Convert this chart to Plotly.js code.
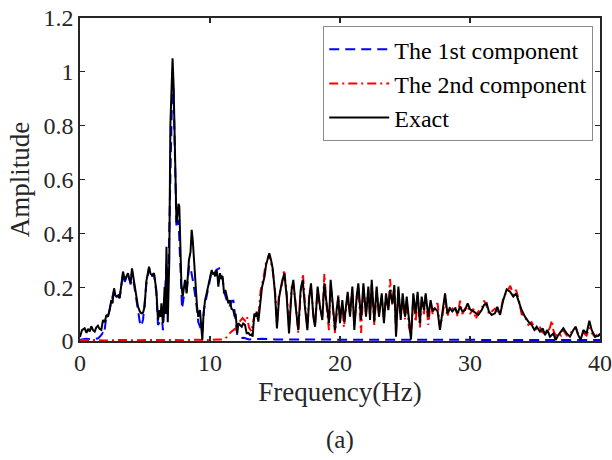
<!DOCTYPE html>
<html>
<head>
<meta charset="utf-8">
<script src="https://cdn.plot.ly/plotly-3.0.1.min.js"></script>
<style>html,body{margin:0;padding:0;background:#fff;}#chart{width:612px;height:460px;}</style>
</head>
<body>
<div id="chart"></div>
<script>
// Exact spectrum (black solid)
var freqExact = [0,0.15,0.36,0.5,0.62,0.75,0.87,1.0,1.13,1.25,1.38,1.5,1.64,1.77,1.9,2.03,2.15,2.28,2.41,2.5,2.62,2.72,2.8,2.95,3.05,3.15,3.31,3.44,3.55,3.69,3.8,3.9,4.0,4.1,4.2,4.33,4.46,4.6,4.72,4.85,4.97,5.1,5.2,5.31,5.42,5.54,5.69,5.87,6.0,6.07,6.13,6.2,6.26,6.38,6.45,6.51,6.58,6.65,6.75,6.87,6.95,7.05,7.12,7.2,7.3,7.42,7.5,7.58,7.64,7.72,7.8,7.9,8.0,8.08,8.2,8.3,8.38,8.5,8.59,8.68,8.77,8.85,8.92,9.0,9.1,9.23,9.3,9.41,9.5,9.62,9.74,9.85,9.95,10.05,10.13,10.22,10.31,10.4,10.51,10.58,10.64,10.77,10.87,10.97,11.08,11.18,11.28,11.41,11.54,11.65,11.79,11.9,11.97,12.1,12.18,12.3,12.44,12.55,12.69,12.82,12.95,13.08,13.2,13.28,13.41,13.5,13.59,13.72,13.82,13.92,14.0,14.1,14.2,14.31,14.45,14.56,14.7,14.82,14.92,15.0,15.15,15.31,15.51,15.72,15.9,16.08,16.28,16.41,16.59,16.79,16.97,17.13,17.3,17.49,17.64,17.77,17.95,18.08,18.28,18.46,18.64,18.79,18.97,19.15,19.28,19.49,19.62,19.75,19.87,20.0,20.18,20.33,20.59,20.77,20.95,21.1,21.28,21.41,21.62,21.8,22.0,22.18,22.31,22.44,22.64,22.82,23.0,23.21,23.38,23.54,23.72,23.85,24.03,24.18,24.31,24.49,24.67,24.82,25.0,25.13,25.31,25.46,25.64,25.82,25.97,26.15,26.28,26.46,26.59,26.79,26.97,27.13,27.3,27.51,27.69,27.87,28.08,28.26,28.46,28.64,28.85,29.05,29.23,29.41,29.62,29.82,30.0,30.26,30.45,30.64,30.9,31.08,31.28,31.46,31.67,31.92,32.1,32.31,32.56,32.82,33.08,33.33,33.54,33.72,33.97,34.23,34.49,34.74,34.95,35.13,35.38,35.59,35.77,35.95,36.15,36.41,36.59,36.79,37.0,37.18,37.44,37.69,37.95,38.13,38.33,38.51,38.72,38.97,39.18,39.36,39.62,39.87,40.0];
var ampExact = [0.015,0.04,0.047,0.03,0.045,0.035,0.055,0.04,0.035,0.05,0.057,0.045,0.041,0.078,0.07,0.097,0.09,0.115,0.153,0.14,0.196,0.17,0.165,0.17,0.159,0.2,0.258,0.227,0.24,0.252,0.23,0.215,0.27,0.235,0.202,0.16,0.128,0.11,0.103,0.105,0.128,0.221,0.25,0.276,0.25,0.245,0.252,0.19,0.078,0.1,0.115,0.09,0.14,0.066,0.15,0.2,0.1,0.35,0.07,0.3,0.8,1.0,1.05,0.95,0.75,0.44,0.47,0.51,0.5,0.3,0.21,0.165,0.2,0.227,0.177,0.25,0.301,0.33,0.413,0.37,0.301,0.24,0.177,0.13,0.09,0.115,0.07,0.004,0.1,0.152,0.177,0.2,0.214,0.24,0.264,0.25,0.252,0.24,0.264,0.24,0.202,0.252,0.23,0.24,0.177,0.19,0.165,0.14,0.152,0.12,0.115,0.09,0.102,0.029,0.066,0.06,0.053,0.065,0.06,0.029,0.03,0.022,0.025,0.016,0.102,0.09,0.109,0.072,0.12,0.189,0.2,0.22,0.24,0.282,0.31,0.326,0.3,0.27,0.22,0.177,0.047,0.159,0.214,0.252,0.165,0.028,0.189,0.227,0.128,0.04,0.189,0.227,0.128,0.04,0.165,0.214,0.09,0.053,0.202,0.128,0.078,0.214,0.14,0.066,0.227,0.09,0.04,0.12,0.165,0.066,0.152,0.07,0.183,0.09,0.202,0.041,0.165,0.214,0.078,0.214,0.09,0.202,0.078,0.227,0.072,0.202,0.09,0.177,0.066,0.177,0.115,0.19,0.14,0.208,0.016,0.202,0.078,0.177,0.09,0.165,0.066,0.006,0.177,0.103,0.183,0.066,0.165,0.115,0.177,0.09,0.152,0.11,0.121,0.11,0.041,0.103,0.177,0.103,0.121,0.11,0.121,0.103,0.128,0.11,0.115,0.14,0.118,0.11,0.103,0.097,0.115,0.134,0.14,0.109,0.097,0.103,0.127,0.097,0.152,0.192,0.183,0.165,0.177,0.152,0.115,0.09,0.072,0.06,0.041,0.053,0.035,0.047,0.022,0.041,0.016,0.028,0.004,0.022,0.035,0.047,0.028,0.016,0.041,0.053,0.022,0.004,0.041,0.028,0.075,0.041,0.016,0.019,0.028];

// 1st component (blue dashed)
var freq1 = [0,0.5,1.0,1.4,1.6,1.75,1.85,2.0,2.15,2.28,2.41,2.62,2.8,3.05,3.31,3.44,3.69,3.9,4.0,4.2,4.46,4.6,4.72,4.85,4.97,5.1,5.31,5.54,5.69,5.87,6.0,6.13,6.26,6.38,6.51,6.65,6.8,6.95,7.05,7.12,7.2,7.3,7.42,7.58,7.72,7.85,8.0,8.2,8.4,8.55,8.7,8.92,9.1,9.25,9.41,9.55,9.74,9.95,10.13,10.31,10.51,10.7,10.97,11.1,11.3,11.5,11.7,11.8,11.95,12.1,12.3,12.6,13.0,14.0,15.0,17.0,20.0,23.0,26.0,29.0,32.0,35.0,38.0,40.0];
var amp1 = [0.005,0.008,0.006,0.01,0.02,0.03,0.025,0.08,0.09,0.12,0.15,0.19,0.17,0.16,0.25,0.22,0.25,0.21,0.26,0.2,0.12,0.07,0.055,0.08,0.14,0.21,0.27,0.24,0.25,0.18,0.06,0.07,0.11,0.04,0.15,0.29,0.25,0.6,0.95,1.0,0.92,0.72,0.42,0.45,0.28,0.12,0.17,0.18,0.28,0.26,0.22,0.15,0.07,0.05,0.03,0.12,0.17,0.21,0.26,0.25,0.265,0.27,0.23,0.18,0.15,0.13,0.15,0.15,0.08,0.02,0.01,0.012,0.006,0.008,0.006,0.005,0.005,0.005,0.004,0.005,0.004,0.004,0.004,0.004];

// 2nd component (red dash-dot)
var freq2 = [0,1,2,3,4,5,6,7,8,9,10,10.5,11.0,11.3,11.6,11.9,12.1,12.25,12.5,12.7,12.85,13.0,13.2,13.35,13.5,13.7,13.9,14.1,14.3,14.55,14.8,15.0,15.15,15.3,15.5,15.7,15.9,16.08,16.28,16.41,16.59,16.79,16.97,17.15,17.3,17.49,17.64,17.77,17.95,18.08,18.28,18.46,18.64,18.8,18.97,19.15,19.28,19.49,19.62,19.87,20.0,20.18,20.3,20.59,20.77,20.95,21.1,21.28,21.41,21.62,21.8,22.0,22.18,22.31,22.44,22.64,22.82,23.0,23.21,23.38,23.54,23.72,23.85,24.03,24.18,24.31,24.49,24.67,24.82,25.0,25.13,25.31,25.46,25.64,25.82,25.97,26.15,26.28,26.46,26.59,26.79,26.97,27.13,27.3,27.51,27.69,27.87,28.08,28.26,28.46,28.64,28.85,29.05,29.23,29.41,29.62,29.82,30.0,30.26,30.45,30.64,30.9,31.08,31.28,31.46,31.67,31.92,32.1,32.31,32.56,32.82,33.1,33.33,33.54,33.72,33.97,34.23,34.49,34.74,34.95,35.13,35.38,35.59,35.77,35.95,36.15,36.3,36.41,36.59,36.79,37.0,37.18,37.44,37.69,37.95,38.13,38.33,38.51,38.72,38.97,39.18,39.36,39.62,39.87,40.0];
var amp2 = [0.003,0.004,0.002,0.004,0.003,0.004,0.003,0.004,0.003,0.005,0.003,0.006,0.005,0.015,0.033,0.045,0.04,0.07,0.085,0.075,0.09,0.05,0.035,0.08,0.1,0.08,0.19,0.23,0.29,0.32,0.27,0.19,0.06,0.17,0.2,0.265,0.18,0.05,0.2,0.21,0.14,0.03,0.17,0.25,0.14,0.05,0.18,0.2,0.1,0.06,0.19,0.12,0.09,0.25,0.13,0.04,0.21,0.1,0.03,0.17,0.08,0.14,0.05,0.17,0.1,0.19,0.06,0.15,0.2,0.03,0.2,0.1,0.19,0.09,0.21,0.06,0.19,0.1,0.16,0.08,0.17,0.12,0.23,0.13,0.2,0.03,0.19,0.09,0.16,0.08,0.15,0.05,0.02,0.16,0.07,0.17,0.05,0.15,0.1,0.17,0.06,0.14,0.1,0.13,0.14,0.05,0.09,0.16,0.09,0.13,0.12,0.13,0.09,0.15,0.1,0.12,0.13,0.1,0.12,0.08,0.11,0.12,0.15,0.13,0.1,0.11,0.12,0.11,0.1,0.16,0.18,0.205,0.17,0.19,0.16,0.1,0.09,0.06,0.07,0.05,0.04,0.05,0.03,0.045,0.03,0.05,0.077,0.04,0.02,0.03,0.02,0.04,0.02,0.025,0.045,0.05,0.02,0.01,0.03,0.02,0.05,0.03,0.015,0.03,0.02];

var seriesNames = ['The 1st component', 'The 2nd component', 'Exact'];
var xTickVals = [0, 10, 20, 30, 40];
var yTickVals = [0, 0.2, 0.4, 0.6, 0.8, 1, 1.2];
var xLabel = 'Frequency(Hz)';
var yLabel = 'Amplitude';
var caption = '(a)';

var fontFam = '"Liberation Serif", "Times New Roman", serif';
var ink = '#262626';

var traces = [
  {x: freq1, y: amp1, name: seriesNames[0], type: 'scatter', mode: 'lines',
   line: {color: '#0000ff', width: 2, dash: '10px,6px'}},
  {x: freq2, y: amp2, name: seriesNames[1], type: 'scatter', mode: 'lines',
   line: {color: '#ff0000', width: 2, dash: '9px,4px,2px,4px'}},
  {x: freqExact, y: ampExact, name: seriesNames[2], type: 'scatter', mode: 'lines',
   line: {color: '#000000', width: 2}}
];

var axisCommon = {
  showline: true, linecolor: ink, linewidth: 1.6, mirror: 'ticks',
  ticks: 'inside', ticklen: 5, tickwidth: 1.3, tickcolor: ink,
  showgrid: false, zeroline: false,
  tickfont: {family: fontFam, size: 24, color: ink}
};

var layout = {
  width: 612, height: 460,
  margin: {l: 80, r: 12, t: 18, b: 119},
  paper_bgcolor: '#ffffff', plot_bgcolor: '#ffffff',
  font: {family: fontFam, color: ink},
  showlegend: true,
  xaxis: Object.assign({}, axisCommon, {
    range: [0, 40], tickvals: xTickVals, ticktext: xTickVals.map(String),
    title: {text: xLabel, font: {family: fontFam, size: 27, color: ink}, standoff: 6}
  }),
  yaxis: Object.assign({}, axisCommon, {
    range: [0, 1.2], tickvals: yTickVals, ticktext: yTickVals.map(String),
    title: {text: yLabel, font: {family: fontFam, size: 27, color: ink}, standoff: 6}
  }),
  legend: {
    x: 0.987, y: 0.975, xanchor: 'right', yanchor: 'top',
    bgcolor: '#ffffff', bordercolor: '#8a8a8a', borderwidth: 1,
    font: {family: fontFam, size: 24, color: '#000000'},
    itemwidth: 60, tracegroupgap: 0
  },
  annotations: [{
    text: caption, xref: 'paper', yref: 'paper', x: 0.5, y: -0.305,
    xanchor: 'center', yanchor: 'middle', showarrow: false,
    font: {family: fontFam, size: 25, color: ink}
  }]
};

Plotly.newPlot('chart', traces, layout, {displayModeBar: false, staticPlot: true});
</script>
</body>
</html>
